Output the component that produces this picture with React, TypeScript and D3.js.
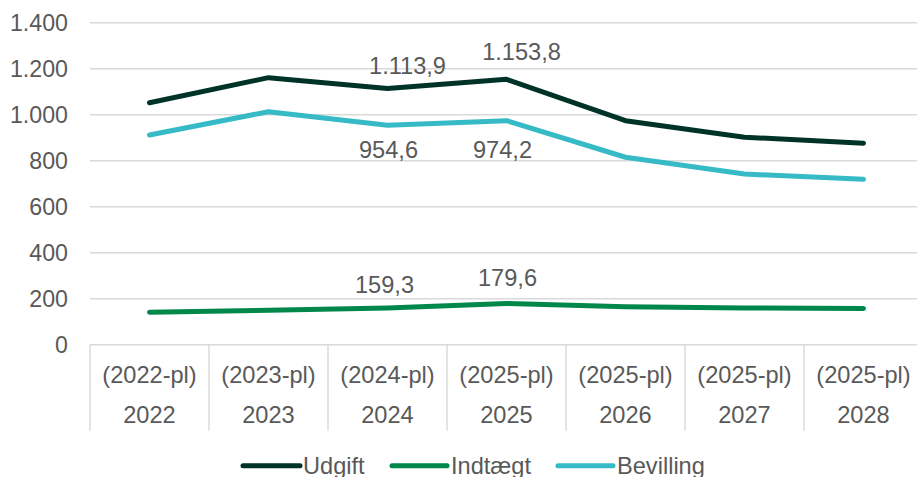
import React from "react";
import * as d3 from "d3";

const years = ["2022", "2023", "2024", "2025", "2026", "2027", "2028"];
const priceLevels = ["(2022-pl)", "(2023-pl)", "(2024-pl)", "(2025-pl)", "(2025-pl)", "(2025-pl)", "(2025-pl)"];
const udgift = [1052, 1161, 1113.9, 1153.8, 974, 902, 876];
const indtaegt = [141, 150, 159.3, 179.6, 165, 160, 157];
const bevilling = [912, 1013, 954.6, 974.2, 815, 742, 719];
const yTicks = [0, 200, 400, 600, 800, 1000, 1200, 1400];
const seriesNames = ["Udgift", "Indtægt", "Bevilling"];

const W = 917;
const H = 477;
const FONT = "'Liberation Sans', Arial, sans-serif";
const TEXT = "#595959";
const colors = ["#003328", "#00884A", "#35BAC6"];

const fmt = (v: number) => {
  const s = v.toFixed(1).split(".");
  const int = s[0].replace(/\B(?=(\d{3})+(?!\d))/g, ".");
  return int + "," + s[1];
};
const fmtTick = (v: number) => String(v).replace(/\B(?=(\d{3})+(?!\d))/g, ".");

export default function App() {
  const left = 90;
  const right = 923;
  const y = d3.scaleLinear().domain([0, 1400]).range([344.7, 22.7]);
  const xb = d3.scaleBand().domain(years).range([left, right]).padding(0);
  const cx = (i: number) => (xb(years[i]) as number) + xb.bandwidth() / 2;
  const line = d3
    .line<number>()
    .x((_, i) => cx(i))
    .y((d) => y(d));
  const allSeries = [udgift, indtaegt, bevilling];

  // labelled points: [series index, category index, dx, dy]
  const labels: [number, number, number, number][] = [
    [0, 2, 20, -23],
    [0, 3, 15, -27],
    [2, 2, 1, 25],
    [2, 3, -4, 29],
    [1, 2, -3, -23],
    [1, 3, 1, -25],
  ];

  const legendItems = [
    { x1: 243, x2: 300, tx: 303 },
    { x1: 392, x2: 447, tx: 451 },
    { x1: 558, x2: 613, tx: 617 },
  ];

  const fs = 23.6;

  return (
    <svg
      width={W}
      height={H}
      style={{ position: "absolute", left: 0, top: 0, display: "block", background: "#fff" }}
      fontFamily={FONT}
    >
      {yTicks.map((t) => (
        <g key={t}>
          <line x1={left} x2={right} y1={y(t)} y2={y(t)} stroke="#D9D9D9" strokeWidth={1.4} />
          <text x={68} y={y(t)} textAnchor="end" dominantBaseline="central" fontSize={23.2} fill={TEXT}>
            {fmtTick(t)}
          </text>
        </g>
      ))}
      {years.map((yr, i) => (
        <g key={yr}>
          <line
            x1={xb(yr) as number}
            x2={xb(yr) as number}
            y1={y(0)}
            y2={430.7}
            stroke="#D9D9D9"
            strokeWidth={1.4}
          />
          <text x={cx(i)} y={375} textAnchor="middle" dominantBaseline="central" fontSize={fs} fill={TEXT}>
            {priceLevels[i]}
          </text>
          <text x={cx(i)} y={415} textAnchor="middle" dominantBaseline="central" fontSize={fs} fill={TEXT}>
            {yr}
          </text>
        </g>
      ))}
      <line x1={right} x2={right} y1={y(0)} y2={430.7} stroke="#D9D9D9" strokeWidth={1.4} />
      {allSeries.map((s, k) => (
        <path
          key={k}
          d={line(s) as string}
          fill="none"
          stroke={colors[k]}
          strokeWidth={5}
          strokeLinecap="round"
          strokeLinejoin="round"
        />
      ))}
      {labels.map(([si, ci, dx, dy], k) => (
        <text
          key={k}
          x={cx(ci) + dx}
          y={y(allSeries[si][ci]) + dy}
          textAnchor="middle"
          dominantBaseline="central"
          fontSize={fs}
          fill={TEXT}
        >
          {fmt(allSeries[si][ci])}
        </text>
      ))}
      {seriesNames.map((n, k) => (
        <g key={n}>
          <line
            x1={legendItems[k].x1}
            x2={legendItems[k].x2}
            y1={465.7}
            y2={465.7}
            stroke={colors[k]}
            strokeWidth={5}
            strokeLinecap="round"
          />
          <text x={legendItems[k].tx} y={465.7} dominantBaseline="central" fontSize={fs} fill={TEXT}>
            {n}
          </text>
        </g>
      ))}
    </svg>
  );
}
